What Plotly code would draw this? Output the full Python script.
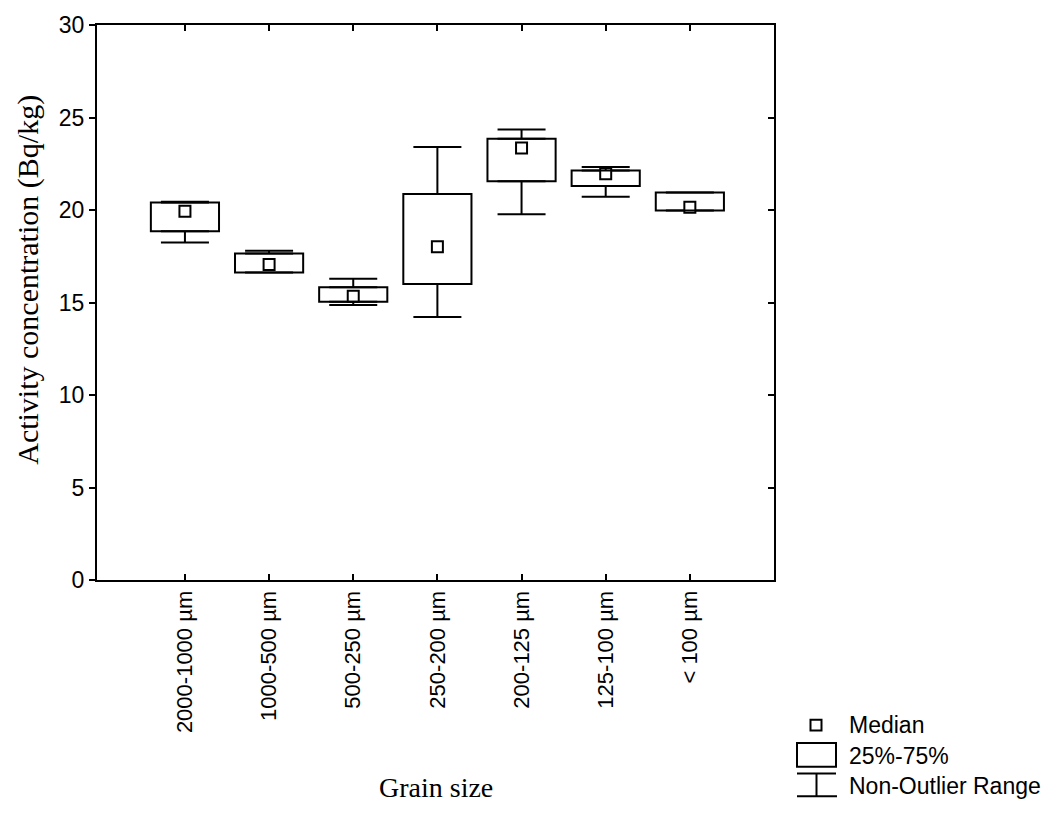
import plotly.graph_objects as go

categories = ["2000-1000 µm", "1000-500 µm", "500-250 µm", "250-200 µm",
              "200-125 µm", "125-100 µm", "< 100 µm"]
median = [19.93, 17.05, 15.34, 18.01, 23.35, 21.96, 20.15]
q1 = [18.85, 16.62, 15.04, 16.00, 21.55, 21.30, 19.97]
q3 = [20.41, 17.65, 15.82, 20.86, 23.85, 22.14, 20.95]
lower = [18.24, 16.62, 14.86, 14.22, 19.77, 20.72, 19.97]
upper = [20.45, 17.80, 16.28, 23.40, 24.35, 22.33, 20.95]

legend_labels = ["Median", "25%-75%", "Non-Outlier Range"]
x_title = "Grain size"
y_title = "Activity concentration (Bq/kg)"

SANS = "Liberation Sans, Arial, sans-serif"
SERIF = "Liberation Serif, Times New Roman, serif"

L, R, T, B = 97, 774, 18, 580
W, H = 1052, 832

fig = go.Figure()

# boxes (25%-75%)
fig.add_trace(go.Bar(
    x=categories, y=[b - a for a, b in zip(q1, q3)], base=q1,
    width=0.81, marker=dict(color="white", line=dict(color="black", width=2)),
    showlegend=False, hoverinfo="skip"))

# upper whiskers
fig.add_trace(go.Scatter(
    x=categories, y=q3, mode="markers", marker=dict(size=0.1, color="rgba(0,0,0,0)"),
    error_y=dict(type="data", array=[u - b for u, b in zip(upper, q3)],
                 arrayminus=[0] * len(q3), symmetric=False,
                 color="black", thickness=2, width=24),
    yaxis="y2", showlegend=False, hoverinfo="skip"))
# lower whiskers
fig.add_trace(go.Scatter(
    x=categories, y=q1, mode="markers", marker=dict(size=0.1, color="rgba(0,0,0,0)"),
    error_y=dict(type="data", array=[0] * len(q1),
                 arrayminus=[a - l for a, l in zip(q1, lower)], symmetric=False,
                 color="black", thickness=2, width=24),
    yaxis="y2", showlegend=False, hoverinfo="skip"))

# medians
fig.add_trace(go.Scatter(
    x=categories, y=median, mode="markers",
    marker=dict(symbol="square", size=11, color="white",
                line=dict(color="black", width=2)),
    showlegend=False, hoverinfo="skip"))

def px(x):
    return (x - L) / (R - L)

def py(y):
    return (B - y) / (B - T)

# legend (drawn manually)
shapes = [
    dict(type="rect", xref="paper", yref="paper",
         x0=px(810.5), x1=px(821.5), y0=py(732.5), y1=py(721.5),
         line=dict(color="black", width=2), fillcolor="white"),
    dict(type="rect", xref="paper", yref="paper",
         x0=px(797), x1=px(836), y0=py(769), y1=py(745),
         line=dict(color="black", width=2), fillcolor="white"),
    dict(type="line", xref="paper", yref="paper",
         x0=px(797), x1=px(836), y0=py(776), y1=py(776),
         line=dict(color="black", width=2)),
    dict(type="line", xref="paper", yref="paper",
         x0=px(816.5), x1=px(816.5), y0=py(776), y1=py(799),
         line=dict(color="black", width=2)),
    dict(type="line", xref="paper", yref="paper",
         x0=px(797), x1=px(837), y0=py(799), y1=py(799),
         line=dict(color="black", width=2)),
]
annotations = []
for lab, yy in zip(legend_labels, [727, 758, 789]):
    annotations.append(dict(
        text=lab, xref="paper", yref="paper", x=px(847), y=py(yy),
        xanchor="left", yanchor="middle", showarrow=False,
        font=dict(family=SANS, size=23, color="black")))

annotations.append(dict(
    text=x_title, xref="paper", yref="paper", x=px(435.5), y=py(790),
    xanchor="center", yanchor="middle", showarrow=False,
    font=dict(family=SERIF, size=28, color="black")))
annotations.append(dict(
    text=y_title, xref="paper", yref="paper", x=px(28), y=py(276),
    xanchor="center", yanchor="middle", showarrow=False, textangle=-90,
    font=dict(family=SERIF, size=30, color="black")))

fig.update_layout(
    width=W, height=H,
    margin=dict(l=L, r=W - R, t=T, b=H - B),
    paper_bgcolor="white", plot_bgcolor="white",
    shapes=shapes, annotations=annotations,
    xaxis=dict(
        type="category", range=[-1.045, 7.0],
        showline=True, linecolor="black", linewidth=2, mirror="ticks",
        ticks="inside", ticklen=6, tickwidth=2, tickcolor="black",
        tickangle=-90, showgrid=False, zeroline=False,
        tickfont=dict(family=SANS, size=22, color="black"),
    ),
    yaxis=dict(
        range=[0, 30], dtick=5, tick0=0,
        showline=True, linecolor="black", linewidth=2, mirror=True,
        ticks="outside", ticklen=6, tickwidth=2, tickcolor="black",
        showgrid=False, zeroline=False,
        tickfont=dict(family=SANS, size=23, color="black"),
    ),
    yaxis2=dict(
        overlaying="y", side="right", range=[0, 30], dtick=5, tick0=0,
        showline=False, ticks="inside", ticklen=6, tickwidth=2,
        tickcolor="black", showticklabels=False, showgrid=False,
        zeroline=False,
    ),
)

fig.write_html(
    "out.html",
    config={"displayModeBar": False},
    post_script="document.body.style.margin='0';document.body.style.overflow='hidden';",
)
